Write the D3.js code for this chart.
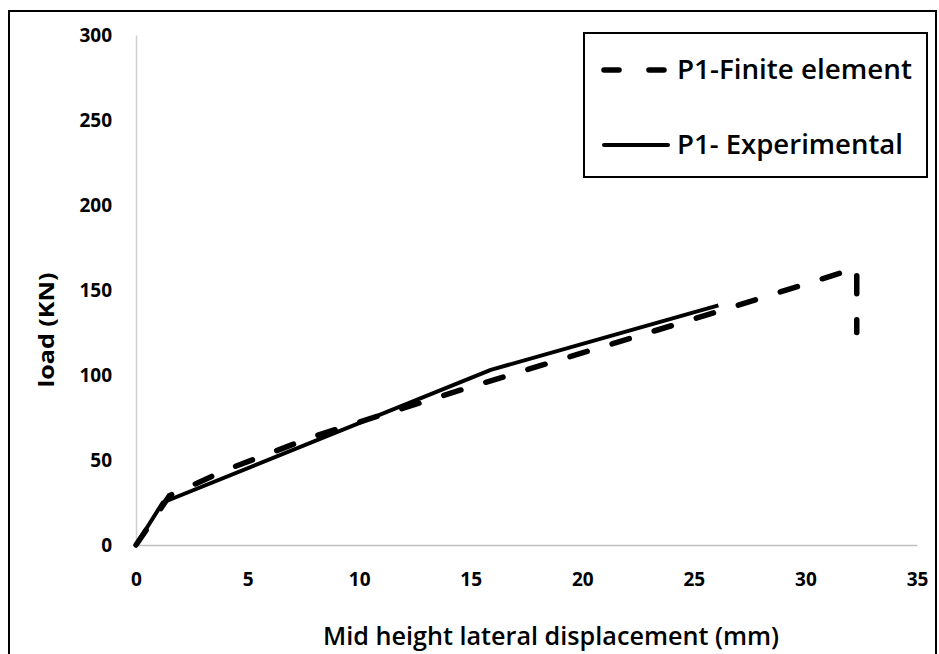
<!DOCTYPE html>
<html>
<head>
<meta charset="utf-8">
<script src="https://cdn.jsdelivr.net/npm/d3@7"></script>
<style>
  body { margin: 0; background: #fff; }
  svg { display: block; }
</style>
</head>
<body>
<div id="chart"></div>
<script>
// series
var feDisp = [0, 1.5, 4, 8, 15, 20, 26, 32.3, 32.3]
var feLoad = [0, 29, 44, 64, 93, 113, 137, 163, 125]
var expDisp = [0, 1.2, 15.9, 26.1]
var expLoad = [0, 25, 103, 141]
var xTicks = [0, 5, 10, 15, 20, 25, 30, 35]
var yTicks = [0, 50, 100, 150, 200, 250, 300]
var seriesNames = ["P1-Finite element", "P1- Experimental"]

var W = 939, H = 654
var margin = { top: 35, right: 22, bottom: 109, left: 136 }
var width = W - margin.left - margin.right
var height = H - margin.top - margin.bottom

var svg = d3.select("#chart")
  .append("svg")
    .attr("width", W)
    .attr("height", H)

// outer frame
svg.append("rect")
  .attr("x", 9).attr("y", 11)
  .attr("width", 927).attr("height", 660)
  .attr("fill", "none")
  .attr("stroke", "#000")
  .attr("stroke-width", 2)

var g = svg.append("g")
  .attr("transform", "translate(" + margin.left + "," + margin.top + ")")

var x = d3.scaleLinear().domain([0, 35]).range([0, width])
var y = d3.scaleLinear().domain([0, 300]).range([height, 0])

// axes: grey lines, no tick marks
var xAxis = g.append("g")
  .attr("transform", "translate(0," + height + ")")
  .call(d3.axisBottom(x).tickValues(xTicks).tickSize(0).tickPadding(28))
xAxis.select(".domain").attr("stroke", "#bfbfbf").attr("stroke-width", 1.5)

var yAxis = g.append("g")
  .call(d3.axisLeft(y).tickValues(yTicks).tickSize(0).tickPadding(24))
yAxis.select(".domain").attr("stroke", "#d0d0d0").attr("stroke-width", 1.5)

g.selectAll(".tick text")
  .style("font-family", "'Open Sans', sans-serif")
  .style("font-weight", "bold")
  .style("font-size", "19px")
  .style("fill", "#000")

var line = d3.line()
  .x(function (d) { return x(d[0]) })
  .y(function (d) { return y(d[1]) })

var feData = feDisp.map(function (d, i) { return [d, feLoad[i]] })
var expData = expDisp.map(function (d, i) { return [d, expLoad[i]] })

g.append("path")
  .datum(expData)
  .attr("d", line)
  .attr("fill", "none")
  .attr("stroke", "#000")
  .attr("stroke-width", 4)
  .attr("stroke-linejoin", "round")

g.append("path")
  .datum(feData)
  .attr("d", line)
  .attr("fill", "none")
  .attr("stroke", "#000")
  .attr("stroke-width", 5.5)
  .attr("stroke-linecap", "round")
  .attr("stroke-dasharray", "18,26")

// axis titles
svg.append("text")
  .attr("x", 551).attr("y", 645)
  .attr("text-anchor", "middle")
  .attr("textLength", 456)
  .attr("lengthAdjust", "spacingAndGlyphs")
  .style("font-family", "'Open Sans', sans-serif")
  .style("font-weight", 600)
  .style("font-size", "26px")
  .text("Mid height lateral displacement (mm)")

svg.append("text")
  .attr("transform", "translate(54,330) rotate(-90)")
  .attr("text-anchor", "middle")
  .attr("textLength", 115)
  .attr("lengthAdjust", "spacingAndGlyphs")
  .style("font-family", "'Open Sans', sans-serif")
  .style("font-weight", "bold")
  .style("font-size", "22px")
  .text("load (KN)")

// legend
var legend = svg.append("g")
legend.append("rect")
  .attr("x", 584).attr("y", 33)
  .attr("width", 343).attr("height", 144)
  .attr("fill", "#fff")
  .attr("stroke", "#000")
  .attr("stroke-width", 2)

var legendRows = [
  { name: seriesNames[0], y: 70, dash: "15,30", sw: 5.5, len: 235 },
  { name: seriesNames[1], y: 145, dash: null, sw: 4, len: 226 }
]

legendRows.forEach(function (r) {
  legend.append("line")
    .attr("x1", 604).attr("x2", 668)
    .attr("y1", r.y).attr("y2", r.y)
    .attr("stroke", "#000")
    .attr("stroke-width", r.sw)
    .attr("stroke-linecap", "round")
    .attr("stroke-dasharray", r.dash)
  legend.append("text")
    .attr("x", 677).attr("y", r.y + 9)
    .attr("textLength", r.len)
    .attr("lengthAdjust", "spacingAndGlyphs")
    .style("font-family", "'Open Sans', sans-serif")
    .style("font-weight", 600)
    .style("font-size", "27px")
    .text(r.name)
})
</script>
</body>
</html>
